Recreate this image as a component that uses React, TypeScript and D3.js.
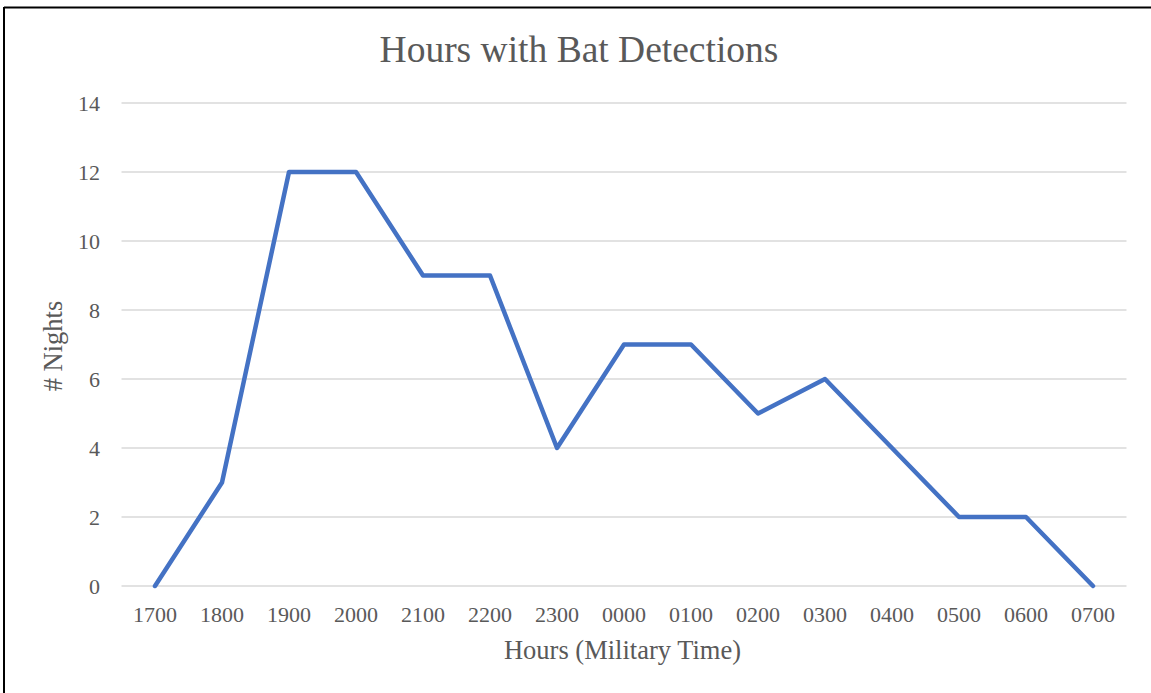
import React from "react";
import * as d3 from "d3";

const categories = ["1700","1800","1900","2000","2100","2200","2300","0000","0100","0200","0300","0400","0500","0600","0700"];
const nights = [0,3,12,12,9,9,4,7,7,5,6,4,2,2,0];
const yTicks = [0,2,4,6,8,10,12,14];

const W = 1151, H = 693;
const font = "'Liberation Serif', 'Times New Roman', serif";

export default function App() {
  const x = d3.scaleBand<string>().domain(categories).range([121.5, 1126.5]);
  const y = d3.scaleLinear().domain([0, 14]).range([586, 103]);
  const line = d3.line<number>()
    .x((_, i) => (x(categories[i]) as number) + x.bandwidth() / 2)
    .y((d) => y(d))
    .curve(d3.curveLinear);

  return (
    <svg width={W} height={H} style={{ position: "absolute", left: 0, top: 0, background: "#fff" }}>
      <rect x={0} y={0} width={W} height={H} fill="#fff" />
      <line x1={4} y1={7.5} x2={W} y2={7.5} stroke="#000" strokeWidth={2} />
      <line x1={4} y1={7} x2={4} y2={H} stroke="#000" strokeWidth={2} />
      <text x={579} y={62} textAnchor="middle" fontFamily={font} fontSize={37.5} fill="#595959">Hours with Bat Detections</text>
      {yTicks.map((t) => (
        <g key={t}>
          <line x1={121.5} x2={1126.5} y1={y(t)} y2={y(t)} stroke="#d9d9d9" strokeWidth={1.5} />
          <text x={100} y={y(t)} dy="0.35em" textAnchor="end" fontFamily={font} fontSize={22} fill="#595959">{t}</text>
        </g>
      ))}
      {categories.map((c) => (
        <text key={c} x={(x(c) as number) + x.bandwidth() / 2} y={622} textAnchor="middle" fontFamily={font} fontSize={22} fill="#595959">{c}</text>
      ))}
      <path d={line(nights) || ""} fill="none" stroke="#4472C4" strokeWidth={4.5} strokeLinejoin="round" strokeLinecap="round" />
      <text x={622.5} y={659} textAnchor="middle" fontFamily={font} fontSize={26.5} fill="#595959">Hours (Military Time)</text>
      <text transform={`translate(62,346) rotate(-90)`} textAnchor="middle" fontFamily={font} fontSize={26.5} fill="#595959"># Nights</text>
    </svg>
  );
}
